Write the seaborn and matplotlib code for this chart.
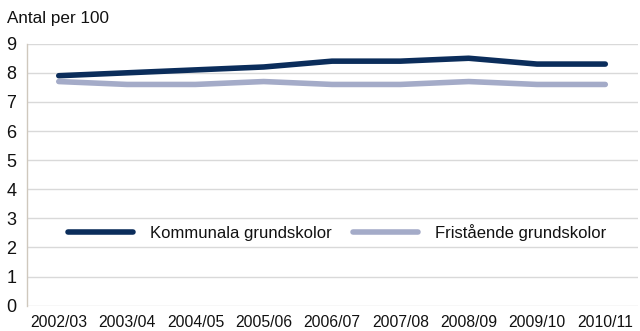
import matplotlib
matplotlib.use("Agg")
import matplotlib.pyplot as plt
import seaborn as sns
import pandas as pd

years = ["2002/03", "2003/04", "2004/05", "2005/06", "2006/07",
         "2007/08", "2008/09", "2009/10", "2010/11"]
kommunala = [7.9, 8.0, 8.1, 8.2, 8.4, 8.4, 8.5, 8.3, 8.3]
fristaende = [7.7, 7.6, 7.6, 7.7, 7.6, 7.6, 7.7, 7.6, 7.6]
series_names = ["Kommunala grundskolor", "Fristående grundskolor"]
colors = ["#0b2d5b", "#a4abc8"]
y_ticks = list(range(0, 10))

sns.set_theme(style="white")
plt.rcParams["font.family"] = ["Liberation Sans", "DejaVu Sans"]

df = pd.DataFrame({
    "År": years * 2,
    "Antal": kommunala + fristaende,
    "Skola": [series_names[0]] * len(years) + [series_names[1]] * len(years),
})
df["pos"] = list(range(len(years))) * 2

fig = plt.figure(figsize=(6.4, 3.31), dpi=100)
ax = fig.add_axes([0.0427, 0.0764, 0.9543, 0.7916])

sns.lineplot(data=df, x="pos", y="Antal", hue="Skola", palette=colors,
             linewidth=4, ax=ax, legend=True, solid_capstyle="round")

ax.set_xlim(-0.46, 8.48)
ax.set_ylim(0, 9)
ax.set_yticks(y_ticks)
ax.set_yticklabels([str(t) for t in y_ticks], fontsize=13, color="#111111")
ax.set_xticks(range(len(years)))
ax.set_xticklabels(years, fontsize=11.3, color="#111111")
ax.set_xlabel("")
ax.set_ylabel("")
ax.tick_params(axis="x", length=0, pad=7)
ax.tick_params(axis="y", length=0, pad=8)

ax.yaxis.grid(True, color="#d9d9d9", linewidth=1)
ax.xaxis.grid(False)
for side in ["top", "right", "bottom"]:
    ax.spines[side].set_visible(False)
ax.spines["left"].set_color("#cfc8bd")
ax.spines["left"].set_linewidth(1)

leg = ax.legend(loc="center left", bbox_to_anchor=(0.0666, 0.281), ncol=2,
                frameon=False, fontsize=12, handlelength=3.9,
                columnspacing=1.3, handletextpad=1.0,
                borderpad=0, borderaxespad=0)
for line in leg.get_lines():
    line.set_linewidth(4)
    line.set_solid_capstyle("round")
for txt in leg.get_texts():
    txt.set_color("#111111")

fig.text(0.011, 0.945, "Antal per 100", fontsize=12.3, color="#111111",
         ha="left", va="center")

fig.savefig("out.png", dpi=100)
